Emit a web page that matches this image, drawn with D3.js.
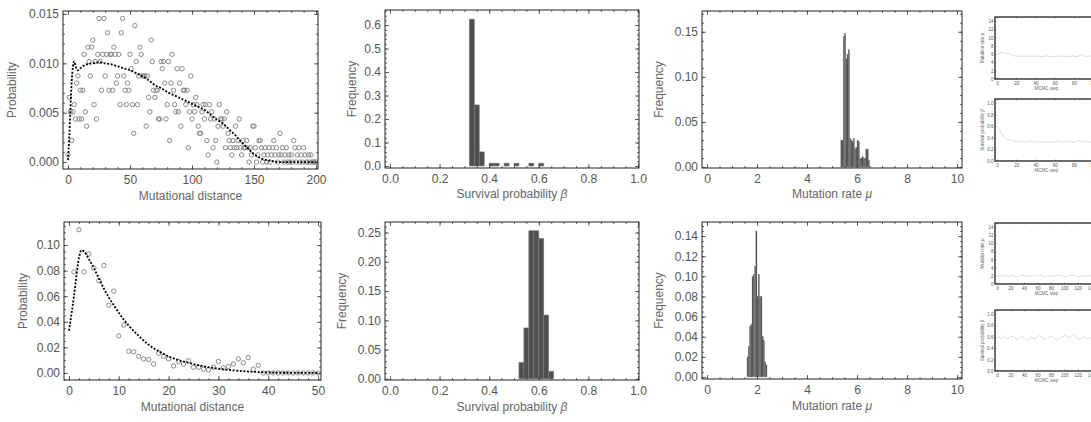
<!DOCTYPE html>
<html><head><meta charset="utf-8">
<script src="https://cdn.jsdelivr.net/npm/d3@7"></script>
<style>
body{margin:0;background:#fff}
svg{display:block}
</style>
</head><body>
<svg id="c" width="1091" height="422"></svg>
<script>
// ---------------- DATA ----------------
// Top-left: observed counts per mutational distance 0..200 (probability = count / total)
const topDistCounts = [1,9,7,3,7,8,6,11,12,6,10,6,10,15,7,5,16,14,12,16,
17,8,14,6,15,20,14,10,15,20,12,15,18,10,15,15,10,16,15,11,
12,15,8,18,20,12,10,8,11,10,15,13,8,4,19,14,8,12,16,15,
12,12,12,5,12,9,7,17,14,10,9,10,10,6,6,14,13,14,11,6,
8,14,3,11,15,10,8,7,13,7,11,5,13,10,10,8,10,2,7,12,
6,8,7,9,8,5,4,4,7,8,6,8,3,1,8,6,7,2,6,3,
0,5,8,6,6,5,6,2,7,4,3,2,1,3,2,5,2,3,6,2,
1,3,2,2,3,2,0,2,1,5,5,2,0,1,3,3,2,0,1,2,
0,1,2,0,1,2,3,1,2,0,1,4,1,2,0,1,2,0,1,0,
1,0,3,2,0,1,2,0,1,0,2,1,0,0,1,0,1,0,0,0,0];
const topDistTotal = 1375;
const topCurveX = [0,1,2,3,4,5,6,7,8,10,12,15,20,25,30,35,40,45,50,55,60,65,70,75,80,85,90,95,100,105,110,115,120,125,130,135,140,145,150,155,160,165,170,180,190,200];
const topCurveY = [0.0002,0.0025,0.0055,0.0082,0.0097,0.0102,0.0098,0.0094,0.0093,0.0095,0.0097,0.0099,
0.0100,0.0101,0.0100,0.0099,0.0097,0.0095,0.0093,0.0090,0.0087,0.0083,0.0078,0.0075,0.0071,0.0068,0.0065,0.0062,
0.0059,0.0056,0.0053,0.0048,0.0043,0.0039,0.0033,0.0027,0.0020,0.0014,0.0008,0.0004,0.0002,0.0001,0,0,0,0];

// Bottom-left: observed probabilities at distance 1..50
const botDistX = [1,2,3,4,5,6,7,8,9,10,11,12,13,14,15,16,17,18,19,20,21,22,23,24,25,26,27,28,29,30,
31,32,33,34,35,36,37,38,39,40,41,42,43,44,45,46,47,48,49,50];
const botDistP = [0.079,0.112,0.079,0.093,0.082,0.072,0.084,0.053,0.064,0.029,0.0375,0.017,0.0165,0.013,0.011,0.0105,0.007,0.0154,0.013,0.011,
0.0055,0.009,0.007,0.0095,0.0045,0.0045,0.003,0.0025,0.0045,0.009,0.004,0.005,0.007,0.011,0.008,0.012,0.003,0.006,
0,0,0,0,0,0,0,0,0,0,0,0];
const botCurveX = [0,1,2,2.5,3,4,5,6,7,8,9,10,12,14,16,18,20,22,24,26,28,30,32,34,36,38,40,45,50];
const botCurveY = [0.033,0.060,0.090,0.096,0.095,0.089,0.082,0.074,0.066,0.059,0.053,0.047,0.037,0.029,0.022,0.017,0.013,0.010,0.008,0.006,0.0045,0.0033,0.0024,0.0017,0.0011,0.0007,0.0004,0.0001,0];

// Histograms of survival probability beta (bin width 0.02)
const betaBinWidth = 0.02;
const betaTopBins = [0.32,0.34,0.36,0.40,0.42,0.46,0.50,0.56,0.60];
const betaTopFreq = [0.625,0.26,0.06,0.012,0.012,0.012,0.012,0.012,0.012];
const betaBotBins = [0.52,0.54,0.56,0.58,0.60,0.62,0.64];
const betaBotFreq = [0.028,0.087,0.253,0.253,0.240,0.109,0.013];

// Histograms of mutation rate mu (bin width 0.05)
const muBinWidth = 0.05;
const muTopBins = [5.35,5.40,5.45,5.50,5.55,5.60,5.65,5.70,5.75,5.80,5.85,5.90,5.95,6.00,6.05,6.10,6.15,6.20,6.25,6.30,6.35,6.40,6.45];
const muTopFreq = [0.030,0.030,0.145,0.148,0.120,0.125,0.130,0.032,0.030,0.028,0.032,0.020,0.022,0.030,0.028,0.010,0.010,0.012,0.010,0.010,0.020,0.020,0.008];
const muBotBins = [1.60,1.65,1.70,1.75,1.80,1.85,1.90,1.95,2.00,2.05,2.10,2.15,2.20,2.25,2.30,2.35];
const muBotFreq = [0.020,0.030,0.050,0.052,0.100,0.102,0.110,0.145,0.080,0.102,0.080,0.080,0.040,0.036,0.015,0.012];

// MCMC traces
const traceTopStep = [0,2,4,6,8,10,12,14,16,18,20,22,24,26,28,30,32,34,36,38,40,42,44,46,48,50,52,54,56,58,60,62,64,66,68,70,72,74,76,78,80,82,84,86,88,90,92,94,96,98,100,102,104];
const traceTopMu = [6.0,6.1,6.3,6.5,6.4,6.2,6.1,5.9,5.8,5.6,5.5,5.5,5.6,5.4,5.5,5.5,5.6,5.5,5.4,5.5,5.6,5.5,5.5,5.4,5.5,5.5,5.6,5.5,5.4,5.5,5.5,5.4,5.5,5.6,5.5,5.5,5.4,5.5,5.5,5.6,5.5,5.4,5.5,5.7,5.9,5.6,5.5,5.4,5.6,5.5,5.5,5.6,5.5];
const traceTopBeta = [0.60,0.56,0.50,0.45,0.41,0.38,0.37,0.36,0.35,0.34,0.34,0.33,0.33,0.34,0.33,0.32,0.33,0.34,0.33,0.33,0.34,0.33,0.32,0.33,0.34,0.33,0.33,0.32,0.33,0.34,0.33,0.33,0.34,0.33,0.32,0.33,0.33,0.34,0.33,0.33,0.32,0.33,0.34,0.35,0.34,0.33,0.33,0.34,0.33,0.33,0.34,0.33,0.33];
const traceBotStep = [0,3,6,9,12,15,18,21,24,27,30,33,36,39,42,45,48,51,54,57,60,63,66,69,72,75,78,81,84,87,90,93,96,99,102,105,108,111,114,117,120,123,126,129,132,135,138,141,144,147,150];
const traceBotMu = [2.0,2.1,1.9,2.0,2.2,2.0,1.9,2.1,2.0,1.8,1.9,2.0,2.1,2.2,2.0,1.9,2.0,2.1,2.0,1.9,2.0,2.2,2.1,1.9,1.8,2.0,2.0,2.1,1.9,2.0,2.1,2.2,2.0,1.9,1.8,2.0,2.1,2.3,2.2,2.0,1.8,1.9,2.0,2.1,2.0,1.9,2.0,2.1,2.2,2.0,1.9];
const traceBotBeta = [0.58,0.60,0.57,0.62,0.59,0.56,0.58,0.61,0.60,0.57,0.55,0.58,0.60,0.59,0.56,0.54,0.57,0.59,0.58,0.56,0.60,0.62,0.59,0.57,0.55,0.58,0.60,0.61,0.58,0.56,0.54,0.57,0.59,0.61,0.63,0.60,0.58,0.62,0.64,0.60,0.57,0.55,0.58,0.60,0.59,0.56,0.58,0.61,0.60,0.58,0.59];

// Tick values
const distTopXTicks = [0,50,100,150,200];
const distTopYTicks = [0,0.005,0.010,0.015];
const distBotXTicks = [0,10,20,30,40,50];
const distBotYTicks = [0,0.02,0.04,0.06,0.08,0.10];
const betaXTicks = [0,0.2,0.4,0.6,0.8,1.0];
const betaTopYTicks = [0,0.1,0.2,0.3,0.4,0.5,0.6];
const betaBotYTicks = [0,0.05,0.10,0.15,0.20,0.25];
const muXTicks = [0,2,4,6,8,10];
const muTopYTicks = [0,0.05,0.10,0.15];
const muBotYTicks = [0,0.02,0.04,0.06,0.08,0.10,0.12,0.14];
const traceTopXTicks = [0,20,40,60,80,100];
const traceBotXTicks = [0,20,40,60,80,100,120,140];
const traceMuYTicks = [0,2,4,6,8,10,12,14];
const traceBetaYTicks = [0,0.2,0.4,0.6,0.8,1.0];

// ---------------- DRAWING ----------------
const FONT = '"Liberation Sans", Arial, sans-serif';
const svg = d3.select("#c");

function minorTicks(scale, step){
  const [a,b] = scale.domain(); const out=[];
  for(let k=Math.ceil(a/step-1e-9); k*step<=b+1e-9; k++) out.push(+(k*step).toFixed(10));
  return out;
}

function drawAxes(g, x, y, o){
  const L=x.range()[0], R=x.range()[1], B=y.range()[0], T=y.range()[1];
  const fs=o.fs||12, tl=o.tl||4, ml=o.ml||2, tc=o.tickColor||"#444", tw=o.tickW||0.8;
  const mk=(fn, sc, vals, size, fmt, tx, ty, pad)=>{
    const ax=fn(sc).tickValues(vals).tickSize(size).tickSizeOuter(0).tickPadding(pad).tickFormat(fmt||(()=>""));
    const gg=g.append("g").attr("transform",`translate(${tx},${ty})`).call(ax);
    gg.select(".domain").remove();
    gg.selectAll("line").attr("stroke",tc).attr("stroke-width",tw);
    gg.selectAll("text").attr("fill","#555").style("font-size",fs+"px").style("font-family",FONT);
  };
  const xMin=minorTicks(x,o.xMinor), yMin=minorTicks(y,o.yMinor);
  mk(d3.axisBottom,x,xMin,-ml,null,0,B,0);
  mk(d3.axisTop,x,xMin,-ml,null,0,T,0);
  mk(d3.axisLeft,y,yMin,-ml,null,L,0,0);
  mk(d3.axisRight,y,yMin,-ml,null,R,0,0);
  mk(d3.axisBottom,x,o.xMaj,-tl,o.xFmt,0,B,o.xPad||6);
  mk(d3.axisTop,x,o.xMaj,-tl,null,0,T,0);
  mk(d3.axisLeft,y,o.yMaj,-tl,o.yFmt,L,0,o.yPad||4);
  mk(d3.axisRight,y,o.yMaj,-tl,null,R,0,0);
  g.append("rect").attr("x",L).attr("y",T).attr("width",R-L).attr("height",B-T)
    .attr("fill","none").attr("stroke",o.frameColor||"#222").attr("stroke-width",o.frameW||1);
}

function titles(g, x, y, xt, yt, o){
  const L=x.range()[0], R=x.range()[1], B=y.range()[0], T=y.range()[1];
  const fs=o.tfs||12;
  const tx=g.append("text").attr("x",(L+R)/2).attr("y",B+o.xtOff).attr("text-anchor","middle")
    .attr("fill","#666").style("font-size",fs+"px").style("font-family",FONT);
  xt.forEach(p=>tx.append("tspan").text(p[0]).style("font-style",p[1]?"italic":"normal"));
  const ty=g.append("text").attr("transform",`translate(${L-o.ytOff},${(T+B)/2}) rotate(-90)`)
    .attr("text-anchor","middle").attr("fill","#666").style("font-size",fs+"px").style("font-family",FONT);
  yt.forEach(p=>ty.append("tspan").text(p[0]).style("font-style",p[1]?"italic":"normal"));
}

const dotted = {stroke:"#000", w:1.8, dash:"2,1.6"};

// --- Distance panels ---
function distPanel(cfg){
  const g=svg.append("g");
  const x=d3.scaleLinear().domain(cfg.xd).range(cfg.xr);
  const y=d3.scaleLinear().domain(cfg.yd).range(cfg.yr);
  const clipId="clip"+Math.random().toString(36).slice(2);
  g.append("clipPath").attr("id",clipId).append("rect").attr("x",cfg.xr[0]).attr("y",cfg.yr[1])
    .attr("width",cfg.xr[1]-cfg.xr[0]).attr("height",cfg.yr[0]-cfg.yr[1]);
  const pg=g.append("g").attr("clip-path",`url(#${clipId})`);
  pg.selectAll("circle").data(cfg.pts).enter().append("circle")
    .attr("cx",d=>x(d[0])).attr("cy",d=>y(d[1])).attr("r",2.2)
    .attr("fill","none").attr("stroke","#8a8a8a").attr("stroke-width",1);
  const line=d3.line().x(d=>x(d[0])).y(d=>y(d[1])).curve(d3.curveMonotoneX);
  pg.append("path").datum(cfg.curve).attr("d",line).attr("fill","none")
    .attr("stroke",dotted.stroke).attr("stroke-width",dotted.w).attr("stroke-dasharray",dotted.dash);
  drawAxes(g,x,y,cfg.ax);
  titles(g,x,y,[["Mutational distance"]],[["Probability"]],cfg.t);
}

distPanel({
  xd:[-4.03,201.6], xr:[63,318], yd:[-0.0007,0.0153], yr:[169,11],
  pts: topDistCounts.map((c,i)=>[i,c/topDistTotal]),
  curve: topCurveX.map((v,i)=>[v,topCurveY[i]]),
  ax:{xMaj:distTopXTicks, xMinor:10, xFmt:d3.format("d"), yMaj:distTopYTicks, yMinor:0.001, yFmt:d3.format(".3f")},
  t:{xtOff:31, ytOff:47}
});
distPanel({
  xd:[-1,50.6], xr:[64,321], yd:[-0.0055,0.118], yr:[380,222],
  pts: botDistX.map((v,i)=>[v,botDistP[i]]),
  curve: botCurveX.map((v,i)=>[v,botCurveY[i]]),
  ax:{xMaj:distBotXTicks, xMinor:2, xFmt:d3.format("d"), yMaj:distBotYTicks, yMinor:0.005, yFmt:d3.format(".2f")},
  t:{xtOff:31, ytOff:37}
});

// --- Histogram panels ---
function histPanel(cfg){
  const g=svg.append("g");
  const x=d3.scaleLinear().domain(cfg.xd).range(cfg.xr);
  const y=d3.scaleLinear().domain(cfg.yd).range(cfg.yr);
  g.selectAll("rect.bar").data(cfg.bins.map((b,i)=>[b,cfg.freq[i]])).enter().append("rect").attr("class","bar")
    .attr("x",d=>x(d[0])).attr("width",d=>x(d[0]+cfg.bw)-x(d[0]))
    .attr("y",d=>y(d[1])).attr("height",d=>y(0)-y(d[1]))
    .attr("fill","#4f4f4f").attr("stroke","#7c7c7c").attr("stroke-width",cfg.sw);
  drawAxes(g,x,y,cfg.ax);
  titles(g,x,y,cfg.xt,[["Frequency"]],cfg.t);
}

histPanel({
  xd:[-0.02,1.004], xr:[385,639], yd:[-0.0085,0.664], yr:[168,10],
  bins:betaTopBins, freq:betaTopFreq, bw:betaBinWidth, sw:0.6,
  ax:{xMaj:betaXTicks, xMinor:0.05, xFmt:d3.format(".1f"), yMaj:betaTopYTicks, yMinor:0.02, yFmt:d3.format(".1f")},
  xt:[["Survival probability "],["β",true]], t:{xtOff:30, ytOff:29}
});
histPanel({
  xd:[-0.02,1.004], xr:[385,639], yd:[-0.002,0.268], yr:[380,222],
  bins:betaBotBins, freq:betaBotFreq, bw:betaBinWidth, sw:0.6,
  ax:{xMaj:betaXTicks, xMinor:0.05, xFmt:d3.format(".1f"), yMaj:betaBotYTicks, yMinor:0.01, yFmt:d3.format(".2f")},
  xt:[["Survival probability "],["β",true]], t:{xtOff:31, ytOff:39}
});
histPanel({
  xd:[-0.2,10.2], xr:[702,962], yd:[-0.001,0.173], yr:[168,11],
  bins:muTopBins, freq:muTopFreq, bw:muBinWidth, sw:0.3,
  ax:{xMaj:muXTicks, xMinor:0.5, xFmt:d3.format("d"), yMaj:muTopYTicks, yMinor:0.01, yFmt:d3.format(".2f")},
  xt:[["Mutation rate "],["μ",true]], t:{xtOff:30, ytOff:39}
});
histPanel({
  xd:[-0.2,10.2], xr:[702,962], yd:[-0.002,0.154], yr:[379,222],
  bins:muBotBins, freq:muBotFreq, bw:muBinWidth, sw:0.3,
  ax:{xMaj:muXTicks, xMinor:0.5, xFmt:d3.format("d"), yMaj:muBotYTicks, yMinor:0.005, yFmt:d3.format(".2f")},
  xt:[["Mutation rate "],["μ",true]], t:{xtOff:31, ytOff:39}
});

// --- Trace panels ---
function tracePanel(cfg){
  const g=svg.append("g");
  const x=d3.scaleLinear().domain(cfg.xd).range(cfg.xr);
  const y=d3.scaleLinear().domain(cfg.yd).range(cfg.yr);
  const line=d3.line().x((d,i)=>x(cfg.steps[i])).y(d=>y(d));
  g.append("path").datum(cfg.vals).attr("d",line).attr("fill","none").attr("stroke","#c4c4c4").attr("stroke-width",0.6);
  drawAxes(g,x,y,{xMaj:cfg.xt, xMinor:cfg.xMinor, xFmt:d3.format("d"), yMaj:cfg.yt, yMinor:cfg.yMinor, yFmt:cfg.yFmt,
    fs:4.5, tl:1.5, ml:0.8, tickW:0.4, xPad:2.5, yPad:1.5, frameW:1.4, frameColor:"#333"});
  titles(g,x,y,[["MCMC step"]],cfg.ylab,{tfs:4.5, xtOff:10.5, ytOff:11});
}
tracePanel({xd:[-2,105], xr:[995,1098], yd:[0,15], yr:[79,17], steps:traceTopStep, vals:traceTopMu,
  xt:traceTopXTicks, xMinor:5, yt:traceMuYTicks, yMinor:1, yFmt:d3.format("d"), ylab:[["Mutation rate "],["μ",true]]});
tracePanel({xd:[-2,105], xr:[995,1098], yd:[0,1.07], yr:[161,99], steps:traceTopStep, vals:traceTopBeta,
  xt:traceTopXTicks, xMinor:5, yt:traceBetaYTicks, yMinor:0.05, yFmt:d3.format(".1f"), ylab:[["Survival probability "],["β",true]]});
tracePanel({xd:[-3,150], xr:[995,1098], yd:[0,15], yr:[284,223], steps:traceBotStep, vals:traceBotMu,
  xt:traceBotXTicks, xMinor:5, yt:traceMuYTicks, yMinor:1, yFmt:d3.format("d"), ylab:[["Mutation rate "],["μ",true]]});
tracePanel({xd:[-3,150], xr:[995,1098], yd:[0,1.07], yr:[371,310], steps:traceBotStep, vals:traceBotBeta,
  xt:traceBotXTicks, xMinor:5, yt:traceBetaYTicks, yMinor:0.05, yFmt:d3.format(".1f"), ylab:[["Survival probability "],["β",true]]});
</script>
</body></html>
